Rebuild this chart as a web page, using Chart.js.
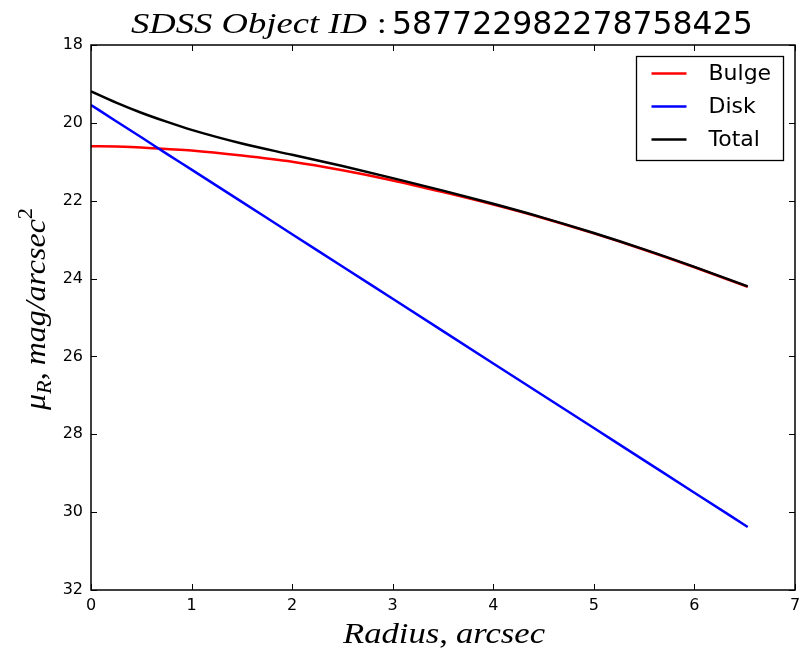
<!DOCTYPE html>
<html>
<head>
<meta charset="utf-8">
<script src="https://cdn.jsdelivr.net/npm/chart.js@4.4.1/dist/chart.umd.min.js"></script>
<style>
html,body{margin:0;padding:0;background:#fff;}
#wrap{position:relative;width:800px;height:654px;}
</style>
</head>
<body>
<div id="wrap"><canvas id="c" width="800" height="654"></canvas></div>
<script>
// ---- data ----
const radius = [0, 0.25, 0.5, 0.75, 1, 1.5, 2, 2.5, 3, 3.5, 4, 4.5, 5, 5.5, 6, 6.53];
const bulge  = [20.60, 20.61, 20.63, 20.67, 20.71, 20.84, 21.00, 21.22, 21.48, 21.78, 22.10, 22.45, 22.84, 23.26, 23.71, 24.21];
const disk   = [19.54, 19.96, 20.37, 20.79, 21.20, 22.03, 22.86, 23.69, 24.52, 25.35, 26.18, 27.01, 27.84, 28.67, 29.50, 30.38];
const total  = [19.19, 19.48, 19.74, 19.97, 20.18, 20.53, 20.82, 21.11, 21.42, 21.74, 22.08, 22.44, 22.83, 23.25, 23.70, 24.20];
const seriesNames = ["Bulge", "Disk", "Total"];
const seriesColors = ["#ff0000", "#0000ff", "#000000"];
const xTicks = [0, 1, 2, 3, 4, 5, 6, 7];
const yTicks = [18, 20, 22, 24, 26, 28, 30, 32];
const titleLabel = "SDSS Object ID";
const objectId = "587722982278758425";

const toXY = arr => radius.map((r, i) => ({x: r, y: arr[i]}));
const seriesData = [bulge, disk, total];

const SERIF = "'Liberation Serif', 'DejaVu Serif', serif";
const SANS = "'DejaVu Sans', sans-serif";

function runW(ctx, r) { ctx.font = r.font; return ctx.measureText(r.t).width * (r.sx || 1) + (r.gap || 0); }
function runsWidth(ctx, runs) { return runs.reduce((w, r) => w + runW(ctx, r), 0); }
function drawRuns(ctx, runs, x, y) {
  let cx = x;
  for (const r of runs) {
    ctx.font = r.font;
    ctx.save();
    ctx.translate(cx, y + (r.dy || 0));
    ctx.scale(r.sx || 1, 1);
    ctx.fillText(r.t, 0, 0);
    ctx.restore();
    cx += runW(ctx, r);
  }
}
// stretch serif runs horizontally so the whole group spans a target width
function fitRuns(ctx, runs, target) {
  const base = runsWidth(ctx, runs.map(r => ({...r, sx: 1, gap: 0})));
  const gaps = runs.reduce((g, r) => g + (r.gap || 0), 0);
  const sx = (target - gaps) / base;
  return runs.map(r => ({...r, sx}));
}

const decor = {
  id: 'decor',
  afterDraw(chart) {
    const ctx = chart.ctx;
    const a = chart.chartArea;
    const xs = chart.scales.x, ys = chart.scales.y;
    ctx.save();
    // frame
    ctx.strokeStyle = '#000';
    ctx.lineWidth = 1.5;
    ctx.strokeRect(a.left, a.top, a.right - a.left, a.bottom - a.top);
    // inward ticks on all four sides
    ctx.lineWidth = 1;
    const tl = 6;
    ctx.beginPath();
    for (const v of xTicks) {
      const px = Math.round(xs.getPixelForValue(v)) + 0.5;
      ctx.moveTo(px, a.bottom); ctx.lineTo(px, a.bottom - tl);
      ctx.moveTo(px, a.top); ctx.lineTo(px, a.top + tl);
    }
    for (const v of yTicks) {
      const py = Math.round(ys.getPixelForValue(v)) + 0.5;
      ctx.moveTo(a.left, py); ctx.lineTo(a.left + tl, py);
      ctx.moveTo(a.right, py); ctx.lineTo(a.right - tl, py);
    }
    ctx.stroke();

    ctx.fillStyle = '#000';
    ctx.textBaseline = 'alphabetic';
    ctx.textAlign = 'left';
    // title
    const tLab = fitRuns(ctx, [{t: titleLabel, font: `italic 29px ${SERIF}`}], 236);
    drawRuns(ctx, tLab, 131, 33);
    drawRuns(ctx, [{t: ":", font: `29px ${SERIF}`, sx: 1.2}], 377, 33);
    ctx.font = `31.5px ${SANS}`;
    ctx.fillText(objectId, 392, 34);

    // x axis label
    const xRuns = fitRuns(ctx, [
      {t: "Radius", font: `italic 30px ${SERIF}`},
      {t: ",", font: `30px ${SERIF}`, gap: 8},
      {t: "arcsec", font: `italic 30px ${SERIF}`}
    ], 202);
    drawRuns(ctx, xRuns, 343, 643);

    // y axis label (rotated)
    const yRuns = fitRuns(ctx, [
      {t: "\u03bc", font: `italic 30px ${SERIF}`},
      {t: "R", font: `italic 21px ${SERIF}`, dy: 6},
      {t: ",", font: `30px ${SERIF}`, gap: 7},
      {t: "mag/arcsec", font: `italic 30px ${SERIF}`},
      {t: "2", font: `21px ${SERIF}`, dy: -13}
    ], 202);
    ctx.translate(45, 309);
    ctx.rotate(-Math.PI / 2);
    drawRuns(ctx, yRuns, -101, 0);
    ctx.setTransform(1, 0, 0, 1, 0, 0);

    // legend
    const lx = 636.5, ly = 56.5, lw = 147, lh = 104;
    ctx.fillStyle = '#fff';
    ctx.fillRect(lx, ly, lw, lh);
    ctx.strokeStyle = '#000';
    ctx.lineWidth = 1.3;
    ctx.strokeRect(lx, ly, lw, lh);
    ctx.font = `22px ${SANS}`;
    ctx.textBaseline = 'middle';
    chart.data.datasets.forEach((ds, i) => {
      const yy = ly + 17 + i * 33;
      ctx.strokeStyle = ds.borderColor;
      ctx.lineWidth = 2.5;
      ctx.beginPath();
      ctx.moveTo(lx + 15, yy); ctx.lineTo(lx + 50, yy);
      ctx.stroke();
      ctx.fillStyle = '#000';
      ctx.fillText(ds.label, lx + 72, yy + 1);
    });
    ctx.restore();
  }
};

new Chart(document.getElementById('c'), {
  type: 'line',
  data: {
    datasets: seriesNames.map((name, i) => ({
      label: name,
      data: toXY(seriesData[i]),
      borderColor: seriesColors[i],
      backgroundColor: seriesColors[i],
      borderWidth: 2.5,
      pointRadius: 0,
      cubicInterpolationMode: 'monotone',
      fill: false,
      order: 3 - i
    }))
  },
  options: {
    responsive: false,
    animation: false,
    layout: {padding: {left: 0, top: 45, right: 5, bottom: 0}},
    plugins: {legend: {display: false}, tooltip: {enabled: false}, title: {display: false}},
    scales: {
      x: {
        type: 'linear', min: 0, max: 7,
        afterFit: s => { s.height = 64; s.paddingLeft = 0; s.paddingRight = 0; },
        afterBuildTicks: s => { s.ticks = xTicks.map(v => ({value: v})); },
        grid: {display: false, drawTicks: false},
        border: {display: false},
        ticks: {color: '#000', font: {family: 'DejaVu Sans', size: 16}, padding: 6, maxRotation: 0, autoSkip: false}
      },
      y: {
        type: 'linear', min: 18, max: 32, reverse: true,
        afterFit: s => { s.width = 91; s.paddingTop = 0; s.paddingBottom = 0; },
        afterBuildTicks: s => { s.ticks = yTicks.map(v => ({value: v})); },
        grid: {display: false, drawTicks: false},
        border: {display: false},
        ticks: {color: '#000', font: {family: 'DejaVu Sans', size: 16}, padding: 8, autoSkip: false}
      }
    }
  },
  plugins: [decor]
});
</script>
</body>
</html>
